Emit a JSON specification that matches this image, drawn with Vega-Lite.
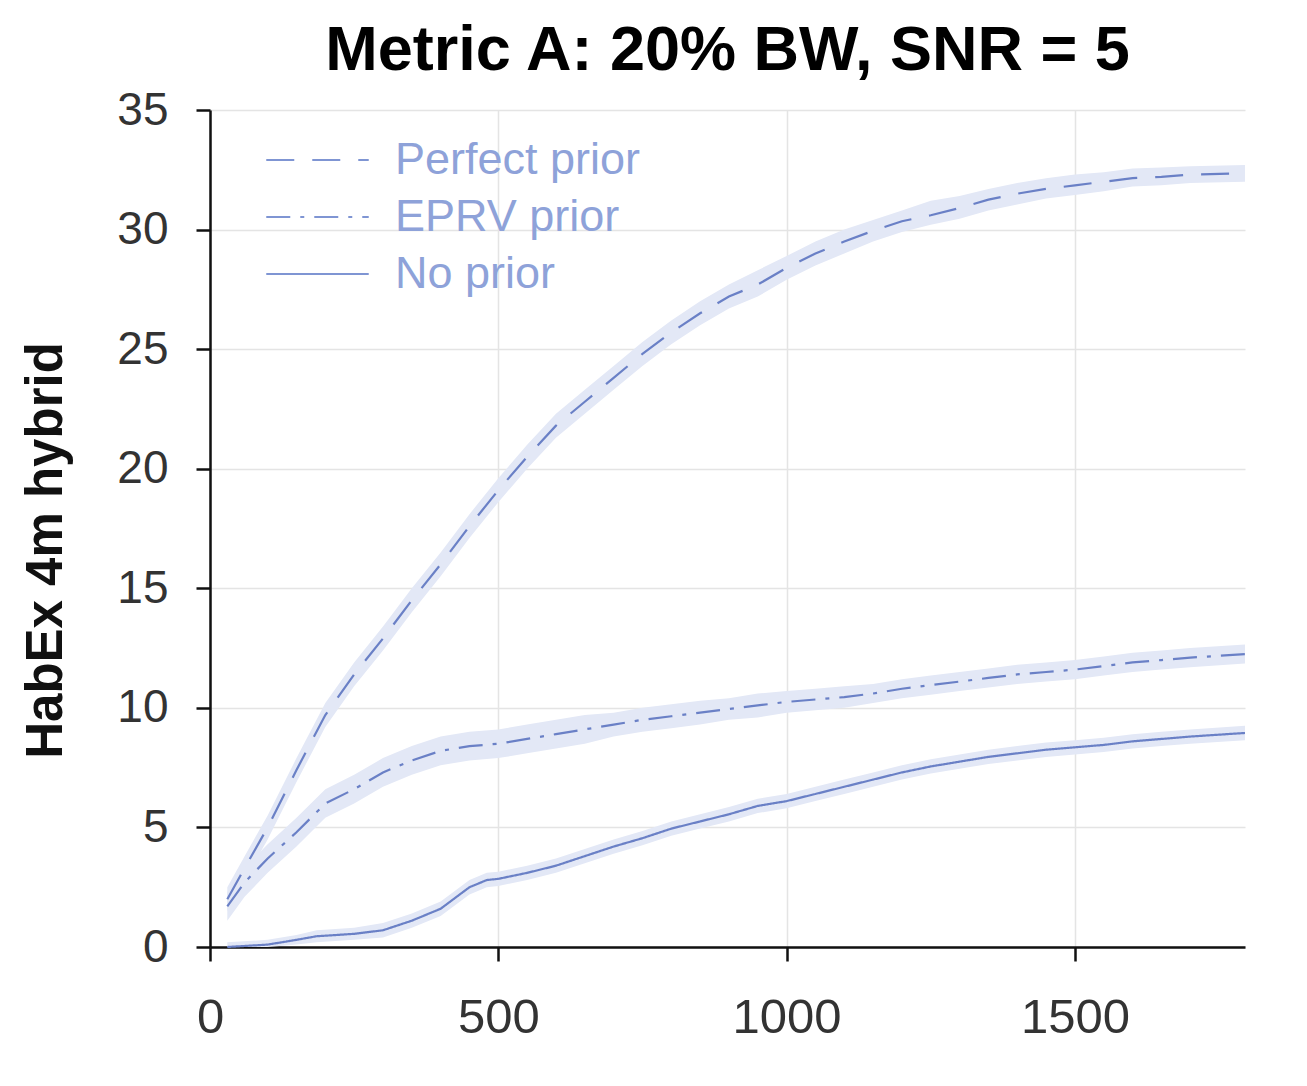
{
  "$schema": "https://vega.github.io/schema/vega-lite/v6.json",
  "autosize": "none",
  "width": 1035,
  "height": 837,
  "padding": {"left": 210, "top": 110, "right": 62, "bottom": 139},
  "background": "white",
  "title": {"text": "Metric A: 20% BW, SNR = 5", "fontSize": 63, "font": "Liberation Sans", "fontWeight": "bold", "color": "#000000", "anchor": "middle", "offset": 4},
  "config": {
    "view": {"stroke": null},
    "axis": {"labelFont": "Liberation Sans", "labelColor": "#333333", "labelFlush": false, "domainColor": "#111111", "domainWidth": 2.5, "tickColor": "#111111", "tickWidth": 2.5, "tickSize": 14, "gridColor": "#e4e4e4", "gridWidth": 1.5}
  },
  "data": {"values": [
    {"series": "Perfect prior", "x": 30, "y": 2.0, "lo": 1.5, "hi": 2.5},
    {"series": "Perfect prior", "x": 60, "y": 3.3, "lo": 2.8, "hi": 3.8},
    {"series": "Perfect prior", "x": 100, "y": 5.0, "lo": 4.5, "hi": 5.5},
    {"series": "Perfect prior", "x": 150, "y": 7.4, "lo": 6.9, "hi": 7.9},
    {"series": "Perfect prior", "x": 200, "y": 9.7, "lo": 9.2, "hi": 10.2},
    {"series": "Perfect prior", "x": 250, "y": 11.4, "lo": 10.9, "hi": 11.9},
    {"series": "Perfect prior", "x": 300, "y": 12.9, "lo": 12.4, "hi": 13.4},
    {"series": "Perfect prior", "x": 350, "y": 14.5, "lo": 14.0, "hi": 15.0},
    {"series": "Perfect prior", "x": 400, "y": 16.0, "lo": 15.5, "hi": 16.5},
    {"series": "Perfect prior", "x": 450, "y": 17.6, "lo": 17.1, "hi": 18.1},
    {"series": "Perfect prior", "x": 500, "y": 19.1, "lo": 18.6, "hi": 19.6},
    {"series": "Perfect prior", "x": 550, "y": 20.5, "lo": 20.0, "hi": 21.0},
    {"series": "Perfect prior", "x": 600, "y": 21.8, "lo": 21.3, "hi": 22.3},
    {"series": "Perfect prior", "x": 650, "y": 22.8, "lo": 22.3, "hi": 23.3},
    {"series": "Perfect prior", "x": 700, "y": 23.8, "lo": 23.3, "hi": 24.3},
    {"series": "Perfect prior", "x": 750, "y": 24.8, "lo": 24.3, "hi": 25.3},
    {"series": "Perfect prior", "x": 800, "y": 25.7, "lo": 25.2, "hi": 26.2},
    {"series": "Perfect prior", "x": 850, "y": 26.5, "lo": 26.0, "hi": 27.0},
    {"series": "Perfect prior", "x": 900, "y": 27.2, "lo": 26.7, "hi": 27.7},
    {"series": "Perfect prior", "x": 950, "y": 27.7, "lo": 27.2, "hi": 28.3},
    {"series": "Perfect prior", "x": 1000, "y": 28.4, "lo": 27.9, "hi": 28.9},
    {"series": "Perfect prior", "x": 1050, "y": 29.0, "lo": 28.5, "hi": 29.5},
    {"series": "Perfect prior", "x": 1100, "y": 29.5, "lo": 29.0, "hi": 30.0},
    {"series": "Perfect prior", "x": 1150, "y": 29.95, "lo": 29.5, "hi": 30.4},
    {"series": "Perfect prior", "x": 1200, "y": 30.35, "lo": 29.9, "hi": 30.8},
    {"series": "Perfect prior", "x": 1250, "y": 30.6, "lo": 30.2, "hi": 31.2},
    {"series": "Perfect prior", "x": 1300, "y": 30.9, "lo": 30.45, "hi": 31.4},
    {"series": "Perfect prior", "x": 1350, "y": 31.25, "lo": 30.8, "hi": 31.7},
    {"series": "Perfect prior", "x": 1400, "y": 31.5, "lo": 31.05, "hi": 31.95},
    {"series": "Perfect prior", "x": 1450, "y": 31.7, "lo": 31.3, "hi": 32.15},
    {"series": "Perfect prior", "x": 1500, "y": 31.85, "lo": 31.45, "hi": 32.3},
    {"series": "Perfect prior", "x": 1550, "y": 32.0, "lo": 31.6, "hi": 32.4},
    {"series": "Perfect prior", "x": 1600, "y": 32.15, "lo": 31.8, "hi": 32.55},
    {"series": "Perfect prior", "x": 1650, "y": 32.2, "lo": 31.85, "hi": 32.6},
    {"series": "Perfect prior", "x": 1700, "y": 32.3, "lo": 31.95, "hi": 32.65},
    {"series": "Perfect prior", "x": 1795, "y": 32.35, "lo": 32.0, "hi": 32.7},
    {"series": "EPRV prior", "x": 30, "y": 1.7, "lo": 1.1, "hi": 2.3},
    {"series": "EPRV prior", "x": 60, "y": 2.7, "lo": 2.1, "hi": 3.3},
    {"series": "EPRV prior", "x": 100, "y": 3.7, "lo": 3.1, "hi": 4.3},
    {"series": "EPRV prior", "x": 150, "y": 4.8, "lo": 4.2, "hi": 5.4},
    {"series": "EPRV prior", "x": 200, "y": 6.0, "lo": 5.4, "hi": 6.6},
    {"series": "EPRV prior", "x": 250, "y": 6.6, "lo": 6.0, "hi": 7.2},
    {"series": "EPRV prior", "x": 300, "y": 7.3, "lo": 6.7, "hi": 7.9},
    {"series": "EPRV prior", "x": 350, "y": 7.8, "lo": 7.2, "hi": 8.4},
    {"series": "EPRV prior", "x": 400, "y": 8.2, "lo": 7.6, "hi": 8.8},
    {"series": "EPRV prior", "x": 450, "y": 8.4, "lo": 7.8, "hi": 9.0},
    {"series": "EPRV prior", "x": 500, "y": 8.5, "lo": 7.9, "hi": 9.1},
    {"series": "EPRV prior", "x": 550, "y": 8.7, "lo": 8.1, "hi": 9.3},
    {"series": "EPRV prior", "x": 600, "y": 8.9, "lo": 8.3, "hi": 9.5},
    {"series": "EPRV prior", "x": 650, "y": 9.1, "lo": 8.5, "hi": 9.7},
    {"series": "EPRV prior", "x": 700, "y": 9.3, "lo": 8.8, "hi": 9.8},
    {"series": "EPRV prior", "x": 750, "y": 9.5, "lo": 9.0, "hi": 10.0},
    {"series": "EPRV prior", "x": 800, "y": 9.65, "lo": 9.15, "hi": 10.15},
    {"series": "EPRV prior", "x": 850, "y": 9.8, "lo": 9.3, "hi": 10.3},
    {"series": "EPRV prior", "x": 900, "y": 9.95, "lo": 9.5, "hi": 10.4},
    {"series": "EPRV prior", "x": 950, "y": 10.1, "lo": 9.6, "hi": 10.6},
    {"series": "EPRV prior", "x": 1000, "y": 10.25, "lo": 9.8, "hi": 10.7},
    {"series": "EPRV prior", "x": 1050, "y": 10.35, "lo": 9.9, "hi": 10.8},
    {"series": "EPRV prior", "x": 1100, "y": 10.45, "lo": 10.0, "hi": 10.9},
    {"series": "EPRV prior", "x": 1150, "y": 10.6, "lo": 10.2, "hi": 11.0},
    {"series": "EPRV prior", "x": 1200, "y": 10.8, "lo": 10.4, "hi": 11.2},
    {"series": "EPRV prior", "x": 1250, "y": 10.95, "lo": 10.55, "hi": 11.35},
    {"series": "EPRV prior", "x": 1300, "y": 11.1, "lo": 10.7, "hi": 11.5},
    {"series": "EPRV prior", "x": 1350, "y": 11.25, "lo": 10.85, "hi": 11.65},
    {"series": "EPRV prior", "x": 1400, "y": 11.4, "lo": 11.0, "hi": 11.8},
    {"series": "EPRV prior", "x": 1450, "y": 11.5, "lo": 11.1, "hi": 11.9},
    {"series": "EPRV prior", "x": 1500, "y": 11.6, "lo": 11.2, "hi": 12.0},
    {"series": "EPRV prior", "x": 1550, "y": 11.75, "lo": 11.35, "hi": 12.15},
    {"series": "EPRV prior", "x": 1600, "y": 11.9, "lo": 11.5, "hi": 12.3},
    {"series": "EPRV prior", "x": 1650, "y": 12.0, "lo": 11.6, "hi": 12.4},
    {"series": "EPRV prior", "x": 1700, "y": 12.1, "lo": 11.7, "hi": 12.5},
    {"series": "EPRV prior", "x": 1795, "y": 12.25, "lo": 11.85, "hi": 12.65},
    {"series": "No prior", "x": 30, "y": 0.0, "lo": 0.0, "hi": 0.2},
    {"series": "No prior", "x": 100, "y": 0.1, "lo": 0.0, "hi": 0.3},
    {"series": "No prior", "x": 150, "y": 0.3, "lo": 0.1, "hi": 0.5},
    {"series": "No prior", "x": 185, "y": 0.45, "lo": 0.2, "hi": 0.7},
    {"series": "No prior", "x": 250, "y": 0.55, "lo": 0.3, "hi": 0.8},
    {"series": "No prior", "x": 300, "y": 0.7, "lo": 0.4, "hi": 1.0},
    {"series": "No prior", "x": 350, "y": 1.1, "lo": 0.8, "hi": 1.4},
    {"series": "No prior", "x": 400, "y": 1.6, "lo": 1.3, "hi": 1.9},
    {"series": "No prior", "x": 450, "y": 2.5, "lo": 2.2, "hi": 2.8},
    {"series": "No prior", "x": 480, "y": 2.8, "lo": 2.5, "hi": 3.1},
    {"series": "No prior", "x": 500, "y": 2.85, "lo": 2.55, "hi": 3.15},
    {"series": "No prior", "x": 550, "y": 3.1, "lo": 2.8, "hi": 3.4},
    {"series": "No prior", "x": 600, "y": 3.4, "lo": 3.1, "hi": 3.7},
    {"series": "No prior", "x": 650, "y": 3.8, "lo": 3.5, "hi": 4.1},
    {"series": "No prior", "x": 700, "y": 4.2, "lo": 3.9, "hi": 4.5},
    {"series": "No prior", "x": 750, "y": 4.55, "lo": 4.25, "hi": 4.85},
    {"series": "No prior", "x": 800, "y": 4.95, "lo": 4.65, "hi": 5.25},
    {"series": "No prior", "x": 850, "y": 5.25, "lo": 4.95, "hi": 5.55},
    {"series": "No prior", "x": 900, "y": 5.55, "lo": 5.25, "hi": 5.85},
    {"series": "No prior", "x": 950, "y": 5.9, "lo": 5.6, "hi": 6.2},
    {"series": "No prior", "x": 1000, "y": 6.1, "lo": 5.8, "hi": 6.4},
    {"series": "No prior", "x": 1050, "y": 6.4, "lo": 6.1, "hi": 6.7},
    {"series": "No prior", "x": 1100, "y": 6.7, "lo": 6.4, "hi": 7.0},
    {"series": "No prior", "x": 1150, "y": 7.0, "lo": 6.7, "hi": 7.3},
    {"series": "No prior", "x": 1200, "y": 7.3, "lo": 7.0, "hi": 7.6},
    {"series": "No prior", "x": 1250, "y": 7.55, "lo": 7.25, "hi": 7.85},
    {"series": "No prior", "x": 1300, "y": 7.75, "lo": 7.45, "hi": 8.05},
    {"series": "No prior", "x": 1350, "y": 7.95, "lo": 7.65, "hi": 8.25},
    {"series": "No prior", "x": 1400, "y": 8.1, "lo": 7.8, "hi": 8.4},
    {"series": "No prior", "x": 1450, "y": 8.25, "lo": 7.95, "hi": 8.55},
    {"series": "No prior", "x": 1500, "y": 8.35, "lo": 8.05, "hi": 8.65},
    {"series": "No prior", "x": 1550, "y": 8.45, "lo": 8.15, "hi": 8.75},
    {"series": "No prior", "x": 1600, "y": 8.6, "lo": 8.3, "hi": 8.9},
    {"series": "No prior", "x": 1650, "y": 8.7, "lo": 8.4, "hi": 9.0},
    {"series": "No prior", "x": 1700, "y": 8.8, "lo": 8.5, "hi": 9.1},
    {"series": "No prior", "x": 1795, "y": 8.95, "lo": 8.65, "hi": 9.25}
  ]},
  "encoding": {
    "x": {"field": "x", "type": "quantitative", "scale": {"domain": [0, 1795], "nice": false, "zero": false},
          "axis": {"title": null, "values": [0, 500, 1000, 1500], "format": "d", "labelFontSize": 49, "labelPadding": 32, "grid": true}}
  },
  "layer": [
    {
      "mark": {"type": "area", "color": "#e3e8f6", "opacity": 1},
      "encoding": {
        "y": {"field": "lo", "type": "quantitative", "scale": {"domain": [0, 35], "nice": false},
              "axis": {"title": "HabEx 4m hybrid", "titleFont": "Liberation Sans", "titleFontSize": 51, "titleFontWeight": "bold", "titleColor": "#111111", "titlePadding": 44, "titleY": 440, "values": [0, 5, 10, 15, 20, 25, 30, 35], "labelFontSize": 46, "labelPadding": 28, "grid": true}},
        "y2": {"field": "hi"},
        "detail": {"field": "series"}
      }
    },
    {
      "mark": {"type": "line", "color": "#6a80c6", "strokeWidth": 2.2},
      "encoding": {
        "y": {"field": "y", "type": "quantitative"},
        "strokeDash": {"field": "series", "type": "nominal",
          "scale": {"domain": ["Perfect prior", "EPRV prior", "No prior"], "range": [[28, 18], [24, 10, 4, 10], [1, 0]]},
          "legend": {"title": null, "orient": "none", "legendX": 55, "legendY": 30, "padding": 0, "clipHeight": 40,
            "symbolType": "stroke", "symbolSize": 10500, "symbolStrokeWidth": 2, "symbolStrokeColor": "#7f95d3",
            "labelFont": "Liberation Sans", "labelFontSize": 45, "labelLimit": 0, "labelColor": "#8ea2d9", "labelOffset": 25, "rowPadding": 12}}
      }
    }
  ]
}
